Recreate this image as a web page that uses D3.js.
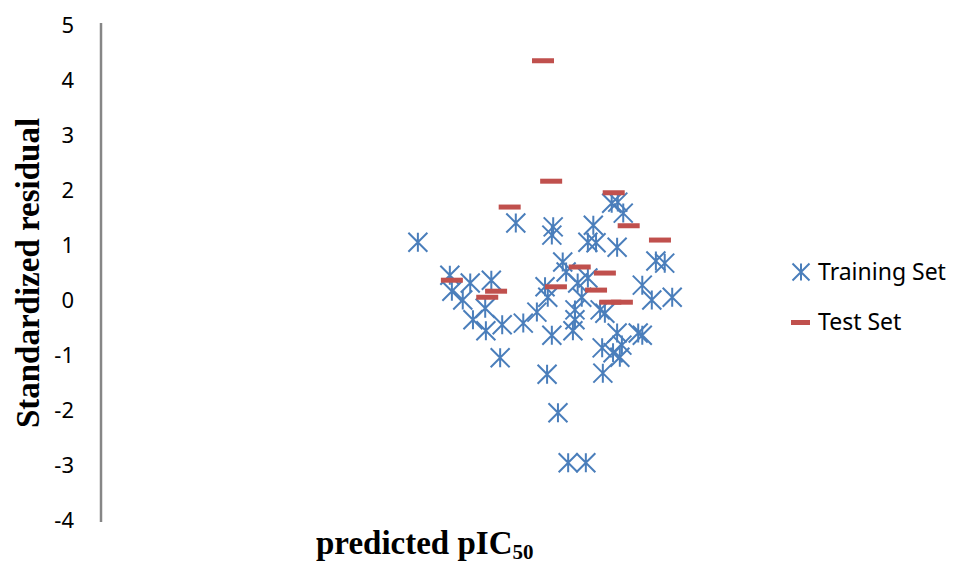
<!DOCTYPE html>
<html>
<head>
<meta charset="utf-8">
<script src="https://cdn.jsdelivr.net/npm/d3@7"></script>
<style>
  body { margin: 0; background: #fff; }
  svg { display: block; }
</style>
</head>
<body>
<script>
// predicted pIC50 (x) and standardized residual (y)
var trainX = [4.66, 5.13, 5.16, 5.43, 5.74, 5.32, 5.65, 5.47, 5.66, 5.90, 6.21, 5.87, 6.10, 6.41,
  6.53, 6.57, 6.65, 6.63, 6.79, 6.84, 7.01, 7.16, 7.07, 6.97, 6.97, 6.94, 6.63, 6.56, 6.72, 6.87,
  7.13, 7.24, 7.16, 7.28, 7.51, 7.60, 7.68, 7.59, 8.16, 8.29, 7.96, 8.10, 8.40, 7.34, 7.41, 7.59,
  7.90, 7.96, 7.37, 7.66, 7.53, 7.63, 7.38];
var trainY = [1.05, 0.45, 0.16, 0.31, 0.36, 0.00, -0.15, -0.36, -0.56, -0.45, -0.42, -1.05, 1.40, -0.22,
  0.24, 0.05, 1.33, 1.18, 0.69, 0.51, 0.31, 0.40, 0.05, -0.18, -0.36, -0.56, -0.64, -1.35, -2.05, -2.96,
  -2.96, 1.36, 1.05, 1.04, 1.76, 1.78, 1.58, 0.96, 0.71, 0.67, 0.27, 0.00, 0.05, -0.18, -0.24, -0.60,
  -0.60, -0.64, -0.87, -0.82, -0.96, -1.04, -1.33];
var testX = [6.50, 6.62, 6.01, 7.54, 7.76, 8.22, 7.04, 7.41, 6.69, 7.28, 7.49, 7.66, 5.16, 5.81, 5.68];
var testY = [4.35, 2.16, 1.69, 1.95, 1.35, 1.09, 0.60, 0.49, 0.24, 0.18, -0.04, -0.04, 0.36, 0.16, 0.05];
var yTicks = [5, 4, 3, 2, 1, 0, -1, -2, -3, -4];
var seriesNames = ["Training Set", "Test Set"];

var W = 956, H = 567;
var blue = "#4a7ebb", red = "#c0504d";

var svg = d3.select("body").append("svg")
  .attr("width", W).attr("height", H);

var x = d3.scaleLinear().domain([0, 10]).range([101, 781]);
var y = d3.scaleLinear().domain([-4, 5]).range([520, 25]);

// y axis: plain grey line, no tick marks
var yAxis = svg.append("g")
  .attr("transform", "translate(101,0)")
  .call(d3.axisLeft(y).tickValues(yTicks).tickSize(0).tickPadding(27)
    .tickFormat(function(d) { return String(d); }));
yAxis.select(".domain").attr("stroke", "#868686").attr("stroke-width", 2.5)
  .attr("d", "M0," + (y(5) - 2) + "V" + (y(-4) + 2));
yAxis.selectAll("text")
  .attr("font-family", "'Noto Sans', sans-serif")
  .attr("font-size", 22).attr("fill", "#000");

// asterisk marker
var star = "M0,-9.5V9.5M-9.5,-9.5L9.5,9.5M-9.5,9.5L9.5,-9.5";

svg.append("g").selectAll("path")
  .data(d3.range(trainX.length)).enter()
  .append("path")
  .attr("d", star)
  .attr("transform", function(i) { return "translate(" + x(trainX[i]) + "," + y(trainY[i]) + ")"; })
  .attr("fill", "none").attr("stroke", blue).attr("stroke-width", 2);

svg.append("g").selectAll("rect")
  .data(d3.range(testX.length)).enter()
  .append("rect")
  .attr("x", function(i) { return x(testX[i]) - 11; })
  .attr("y", function(i) { return y(testY[i]) - 2.5; })
  .attr("width", 22).attr("height", 5)
  .attr("fill", red);

// axis titles
svg.append("text")
  .attr("transform", "translate(39,273) rotate(-90)")
  .attr("text-anchor", "middle")
  .attr("font-family", "'Liberation Serif', serif")
  .attr("font-weight", "bold").attr("font-size", 33)
  .text("Standardized residual");

var xt = svg.append("text")
  .attr("x", 316).attr("y", 554)
  .attr("font-family", "'Liberation Serif', serif")
  .attr("font-weight", "bold").attr("font-size", 33);
xt.append("tspan").text("predicted pIC");
xt.append("tspan").attr("font-size", 21).attr("dy", 5).text("50");

// legend
var leg = svg.append("g").attr("font-family", "'Noto Sans', sans-serif").attr("font-size", 23);
leg.append("path").attr("d", "M0,-8.5V8.5M-8.5,-8.5L8.5,8.5M-8.5,8.5L8.5,-8.5")
  .attr("transform", "translate(801,272)")
  .attr("fill", "none").attr("stroke", blue).attr("stroke-width", 2);
leg.append("rect").attr("x", 791).attr("y", 320).attr("width", 19).attr("height", 5).attr("fill", red);
leg.append("text").attr("x", 818).attr("y", 280).text(seriesNames[0]);
leg.append("text").attr("x", 818).attr("y", 330).text(seriesNames[1]);
</script>
</body>
</html>
